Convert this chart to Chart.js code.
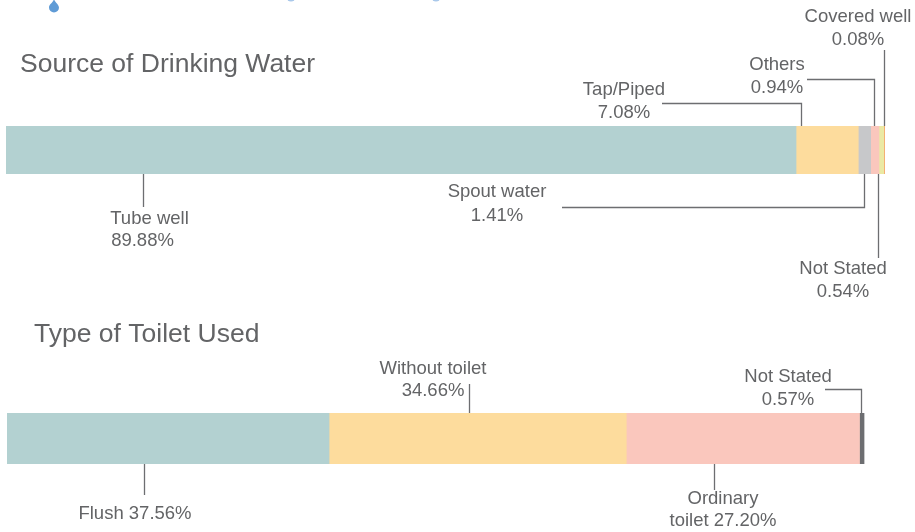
<!DOCTYPE html>
<html>
<head>
<meta charset="utf-8">
<title>Source of Drinking Water and Type of Toilet Used</title>
<script src="https://cdn.jsdelivr.net/npm/chart.js@4"></script>
<style>
    html, body { margin: 0; padding: 0; background: #fff; }
    #page { position: relative; width: 915px; height: 532px; overflow: hidden; }
    canvas { position: absolute; left: 0; }
    #water-chart { top: 0; }
    #toilet-chart { top: 300px; }
</style>
</head>
<body>
<div id="page">
    <canvas id="water-chart" width="915" height="300"></canvas>
    <canvas id="toilet-chart" width="915" height="232"></canvas>
</div>
<script>
const waterCategories = ['Tube well', 'Tap/Piped', 'Spout water', 'Others', 'Not Stated', 'Covered well'];
const waterValues = [89.88, 7.08, 1.41, 0.94, 0.54, 0.08];
const waterColors = ['#b3d1d1', '#fddc9d', '#c7c8ca', '#fac7bd', '#ebe9a4', '#f0903a'];

const toiletCategories = ['Flush', 'Without toilet', 'Ordinary toilet', 'Not Stated'];
const toiletValues = [37.56, 34.66, 27.20, 0.57];
const toiletColors = ['#b3d1d1', '#fddc9d', '#fac7bd', '#6d6e71'];

const TEXT_COLOR = '#636466';
const LINE_COLOR = '#6d6e71';
const FONT = '"Liberation Sans", Arial, sans-serif';

// at = where the leader touches the bar, in axis units. Rest is pixels in the canvas.
const waterCallouts = [
    { at: 15.59, side: 'bottom', end: 207, text: ['Tube well', '89.88%'], tx: [149.5, 142.5], ty: [219, 241] },
    { at: 90.44, side: 'top', elbowY: 103, elbowX: 662, text: ['Tap/Piped', '7.08%'], tx: 624, ty: [90, 113] },
    { at: 97.6, side: 'bottom', elbowY: 207, elbowX: 562, text: ['Spout water', '1.41%'], tx: 497, ty: [192, 216] },
    { at: 98.75, side: 'top', elbowY: 79, elbowX: 807, text: ['Others', '0.94%'], tx: 777, ty: [65, 88] },
    { at: 99.26, side: 'bottom', end: 258, text: ['Not Stated', '0.54%'], tx: 843, ty: [269, 292] },
    { at: 99.89, side: 'top', end: 50, text: ['Covered well', '0.08%'], tx: 858, ty: [17, 40] }
];
const toiletCallouts = [
    { at: 16, side: 'bottom', end: 195, text: ['Flush 37.56%'], tx: 135, ty: [214] },
    { at: 53.9, side: 'top', end: 84, text: ['Without toilet', '34.66%'], tx: 433, ty: [69, 91] },
    { at: 82.5, side: 'bottom', end: 190, text: ['Ordinary', 'toilet 27.20%'], tx: 723, ty: [199, 221] },
    { at: 99.65, side: 'top', elbowY: 89, elbowX: 825, text: ['Not Stated', '0.57%'], tx: 788, ty: [77, 100] }
];

const calloutPlugin = {
    id: 'callouts',
    afterDatasetsDraw(chart, args, opts) {
        const { ctx, chartArea, scales } = chart;
        ctx.save();
        ctx.strokeStyle = LINE_COLOR;
        ctx.lineWidth = 1.3;
        opts.items.forEach(c => {
            const x = Math.round(scales.x.getPixelForValue(c.at)) + 0.5;
            const edge = c.side === 'top' ? chartArea.top : chartArea.bottom;
            ctx.beginPath();
            ctx.moveTo(x, edge);
            if (c.elbowX !== undefined) {
                ctx.lineTo(x, c.elbowY + 0.5);
                ctx.lineTo(c.elbowX, c.elbowY + 0.5);
            } else {
                ctx.lineTo(x, c.end);
            }
            ctx.stroke();
        });
        ctx.fillStyle = TEXT_COLOR;
        ctx.font = '18.5px ' + FONT;
        ctx.textAlign = 'center';
        ctx.textBaseline = 'middle';
        opts.items.forEach(c => {
            c.text.forEach((line, i) => {
                const tx = Array.isArray(c.tx) ? c.tx[i] : c.tx;
                ctx.fillText(line, tx, c.ty[i]);
            });
        });
        // section heading
        ctx.font = '26.5px ' + FONT;
        ctx.textAlign = 'left';
        ctx.fillText(opts.heading, opts.headingX, opts.headingY);
        // the water drop cut off at the top of the page
        if (opts.drop) {
            ctx.fillStyle = '#5f9bd6';
            ctx.beginPath();
            ctx.moveTo(54, -1);
            ctx.bezierCurveTo(55, 3, 59, 4, 59, 8);
            ctx.arc(54, 7.5, 5, 0, Math.PI);
            ctx.bezierCurveTo(49, 4, 53, 3, 54, -1);
            ctx.fill();
            ctx.fillStyle = '#a9c8ea';
            [291, 436].forEach(x => {
                ctx.beginPath();
                ctx.arc(x, -3, 4.5, 0, Math.PI);
                ctx.fill();
            });
        }
        ctx.restore();
    }
};

function stackedBar(id, categories, values, colors, padding, calloutOpts) {
    new Chart(document.getElementById(id), {
        type: 'bar',
        data: {
            labels: [''],
            datasets: categories.map((name, i) => ({
                label: name,
                data: [values[i]],
                backgroundColor: colors[i],
                borderWidth: 0,
                barPercentage: 1,
                categoryPercentage: 1
            }))
        },
        options: {
            indexAxis: 'y',
            responsive: false,
            animation: false,
            layout: { padding: padding },
            scales: {
                x: { stacked: true, min: 0, max: 100, display: false },
                y: { stacked: true, display: false }
            },
            plugins: {
                legend: { display: false },
                tooltip: { enabled: false },
                callouts: calloutOpts
            }
        },
        plugins: [calloutPlugin]
    });
}

stackedBar('water-chart', waterCategories, waterValues, waterColors,
    { left: 6, right: 30, top: 126, bottom: 126 },
    { items: waterCallouts, heading: 'Source of Drinking Water', headingX: 20, headingY: 65, drop: true });

stackedBar('toilet-chart', toiletCategories, toiletValues, toiletColors,
    { left: 7, right: 50.5, top: 113, bottom: 68 },
    { items: toiletCallouts, heading: 'Type of Toilet Used', headingX: 34, headingY: 35, drop: false });
</script>
</body>
</html>
